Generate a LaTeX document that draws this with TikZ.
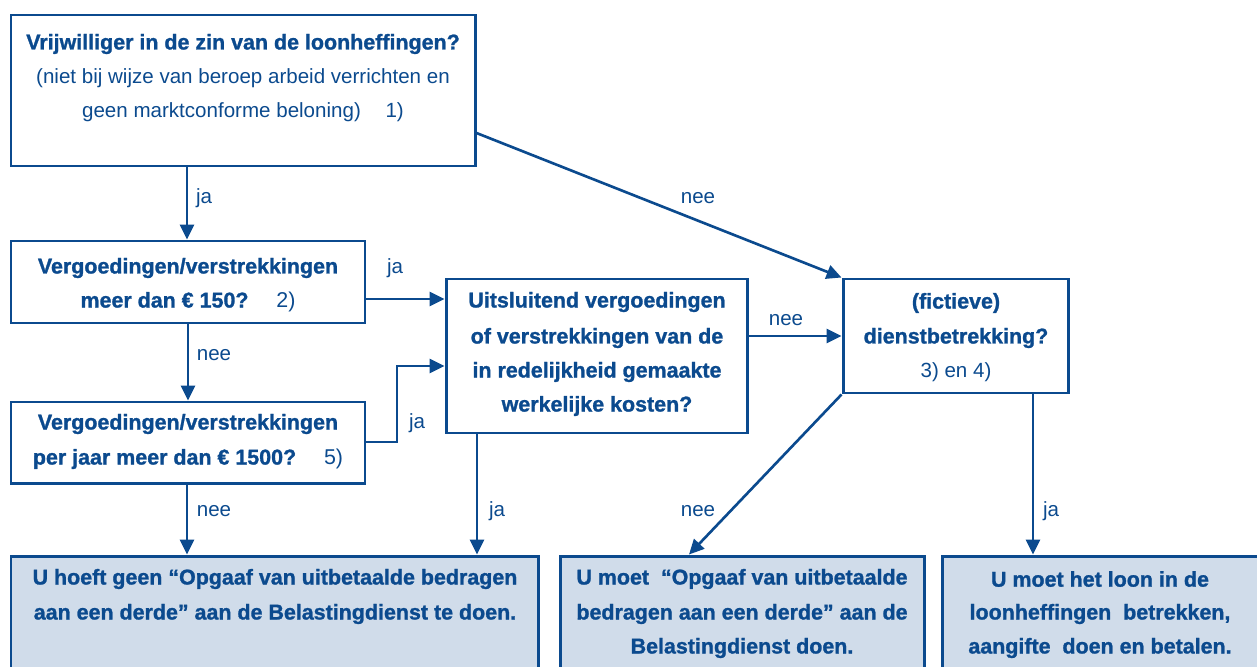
\documentclass[tikz,border=0pt]{standalone}
\usepackage{fontspec}
\setmainfont{Liberation Sans}[BoldFeatures={FakeBold=1.2}]
\usetikzlibrary{arrows.meta,fit,calc}
\definecolor{dblue}{RGB}{11,74,142}
\definecolor{lfill}{RGB}{208,220,234}
\begin{document}
\begin{tikzpicture}[x=0.02cm,y=-0.02cm,
  boxst/.style={draw=dblue,line width=1.7pt,inner sep=0pt},
  endbox/.style={boxst,fill=lfill},
  bt/.style={text=dblue,font=\fontsize{12.2}{14}\selectfont\bfseries,inner sep=0pt,anchor=center},
  rt/.style={text=dblue,font=\fontsize{11.7}{14}\selectfont,inner sep=0pt,anchor=center},
  lbl/.style={text=dblue,font=\fontsize{11.7}{14}\selectfont,inner sep=0pt,anchor=center},
  arr/.style={draw=dblue,line width=1.5pt,-{Triangle[length=8.5pt,width=8pt]}}]
\clip (0,0) rectangle (1257,666);
\useasboundingbox (0,0) rectangle (1257,666);
% boxes
\node[boxst,fit={(11,15) (475,166)}] (b1) {};
\node[boxst,fit={(11,241) (365,323)}] (b2) {};
\node[boxst,fit={(11,402) (365,483)}] (b3) {};
\node[boxst,fit={(446,279) (747,433)}] (b4) {};
\node[boxst,fit={(843,279) (1068,393)}] (b5) {};
\node[endbox,fit={(11,556) (538,720)}] (bA) {};
\node[endbox,fit={(560,556) (924,720)}] (bB) {};
\node[endbox,fit={(942,556) (1290,720)}] (bC) {};
% texts
\node[bt] (t1a) at (243,44) {Vrijwilliger in de zin van de loonheffingen?};
\node[rt] (t1b) at (243,78) {(niet bij wijze van beroep arbeid verrichten en};
\node[rt] (t1c) at (243,112) {geen marktconforme beloning)\hspace{1.2em}1)};
\node[bt] (t2a) at (188,268) {Vergoedingen/verstrekkingen};
\node[bt] (t2b) at (188,302) {meer dan € 150?\hspace{1.3em}{\mdseries 2)}};
\node[bt] (t3a) at (188,424) {Vergoedingen/verstrekkingen};
\node[bt] (t3b) at (188,459) {per jaar meer dan € 1500?\hspace{1.3em}{\mdseries 5)}};
\node[bt] (t4a) at (597,302) {Uitsluitend vergoedingen};
\node[bt] (t4b) at (597,338) {of verstrekkingen van de};
\node[bt] (t4c) at (597,372) {in redelijkheid gemaakte};
\node[bt] (t4d) at (597,406) {werkelijke kosten?};
\node[bt] (t5a) at (956,303) {(fictieve)};
\node[bt] (t5b) at (956,338) {dienstbetrekking?};
\node[rt] (t5c) at (956,372) {3) en 4)};
\node[bt] (tAa) at (275,579) {U hoeft geen “Opgaaf van uitbetaalde bedragen};
\node[bt] (tAb) at (275,614) {aan een derde” aan de Belastingdienst te doen.};
\node[bt] (tBa) at (742,579) {U moet\ \ “Opgaaf van uitbetaalde};
\node[bt] (tBb) at (742,614) {bedragen aan een derde” aan de};
\node[bt] (tBc) at (742,648) {Belastingdienst doen.};
\node[bt] (tCa) at (1100,579) {U moet het loon in de};
\node[bt] (tCb) at (1100,614) {loonheffingen\ \ betrekken,};
\node[bt] (tCc) at (1100,648) {aangifte\ \ doen en betalen.};
% connectors
\draw[arr] (187,0 |- b1.south) -- (187,0 |- b2.north);
\draw[arr] (b1.east |- 0,133) -- (b5.north west);
\draw[arr] (b2.east |- 0,299) -- (b4.west |- 0,299);
\draw[arr] (188,0 |- b2.south) -- (188,0 |- b3.north);
\draw[arr] (b3.east |- 0,442) -| (397,366) -- (b4.west |- 0,366);
\draw[arr] (b4.east |- 0,336) -- (b5.west |- 0,336);
\draw[arr] (187,0 |- b3.south) -- (187,0 |- bA.north);
\draw[arr] (477,0 |- b4.south) -- (477,0 |- bA.north);
\draw[arr] (b5.south west) -- (689,0 |- bB.north);
\draw[arr] (1033,0 |- b5.south) -- (1033,0 |- bC.north);
% labels
\node[lbl] (l1) at (204,198) {ja};
\node[lbl] (l2) at (698,198) {nee};
\node[lbl] (l3) at (395,268) {ja};
\node[lbl] (l4) at (214,355) {nee};
\node[lbl] (l5) at (417,423) {ja};
\node[lbl] (l6) at (786,320) {nee};
\node[lbl] (l7) at (214,511) {nee};
\node[lbl] (l8) at (497,511) {ja};
\node[lbl] (l9) at (698,511) {nee};
\node[lbl] (l10) at (1051,511) {ja};
\end{tikzpicture}
\end{document}
